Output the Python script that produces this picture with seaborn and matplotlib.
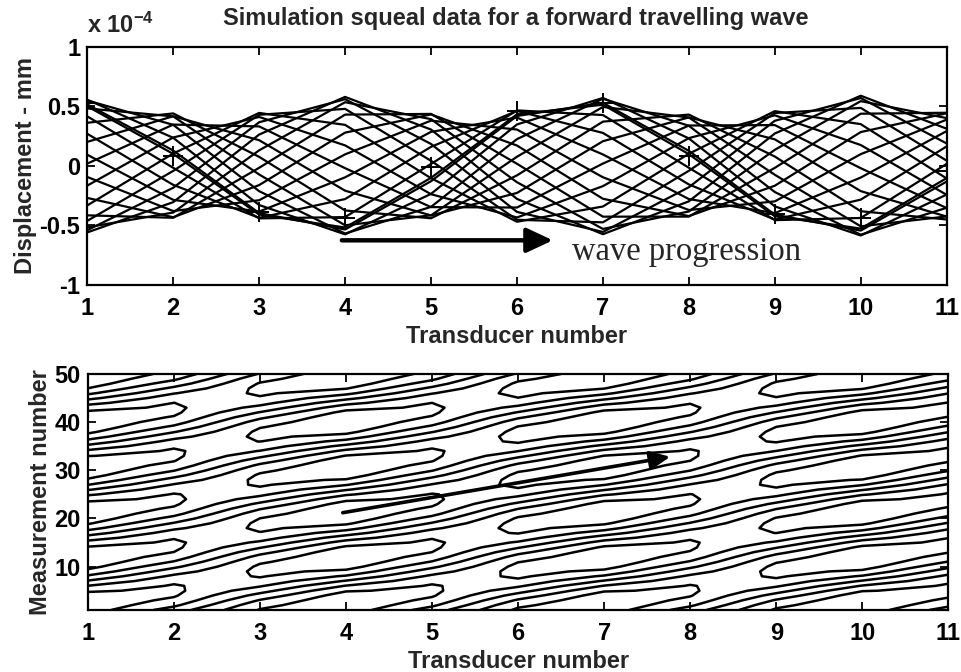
import numpy as np
import pandas as pd
import matplotlib
matplotlib.use("Agg")
import matplotlib.pyplot as plt
import seaborn as sns

# ---- data ----
transducers = list(range(1, 12))
# peak displacement per transducer (x 1e-4 mm)
amplitude = [0.56, 0.44, 0.445, 0.58, 0.44, 0.47, 0.575, 0.43, 0.46, 0.59, 0.45]
# phase lag per transducer (degrees)
phase_deg = [0, 50, 130, 180, 230, 310, 360, 410, 490, 540, 590]
period_meas = 18.8          # measurements per cycle
t_ref = 2.4                 # measurement of peak at transducer 1
measurements = list(range(1, 51))
top_snapshots = list(range(1, 21))
# marked snapshot ('+')
plus_values = [0.53, 0.08, -0.39, -0.44, -0.01, 0.46, 0.53, 0.08, -0.40, -0.44, -0.04]
x_ticks = list(range(1, 12))
y_ticks_top = [-1, -0.5, 0, 0.5, 1]
y_tick_labels_top = ["-1", "-0.5", "0", "0.5", "1"]
y_ticks_bot = [10, 20, 30, 40, 50]

sns.set_style("ticks")
plt.rcParams["font.family"] = ["Liberation Sans", "DejaVu Sans"]
plt.rcParams["font.weight"] = "bold"
plt.rcParams["mathtext.default"] = "regular"

A = np.array(amplitude)
ph = np.deg2rad(np.array(phase_deg))
M = np.array(measurements, dtype=float)
Z = A[None, :] * np.cos(2 * np.pi * (M[:, None] - t_ref) / period_meas - ph[None, :])

rows = []
for m in top_snapshots:
    for k, t in enumerate(transducers):
        rows.append({"meas": m, "transducer": t, "disp": Z[m - 1, k]})
df = pd.DataFrame(rows)
dfp = pd.DataFrame({"transducer": transducers, "disp": plus_values})

fig = plt.figure(figsize=(9.61, 6.72), dpi=100)
ax1 = fig.add_axes([0.0908, 0.5759, 0.8943, 0.3546])
ax2 = fig.add_axes([0.0915, 0.0923, 0.8953, 0.3512])

sns.lineplot(data=df, x="transducer", y="disp", units="meas", estimator=None,
             color="black", lw=1.6, ax=ax1, legend=False)
sns.scatterplot(data=dfp, x="transducer", y="disp", marker="+", s=200,
                color="black", linewidth=1.4, ax=ax1, legend=False, zorder=5)
ax1.set_xlim(1, 11)
ax1.set_ylim(-1, 1)
ax1.set_xticks(x_ticks)
ax1.set_yticks(y_ticks_top)
ax1.set_yticklabels(y_tick_labels_top)
ax1.set_xlabel("Transducer number", fontsize=17, fontweight="bold", labelpad=3)
ax1.set_ylabel("Displacement - mm", fontsize=17, fontweight="bold", labelpad=2)
fig.text(516 / 961, 1 - 18 / 672,
         "Simulation squeal data for a forward travelling wave",
         fontsize=17, fontweight="bold", ha="center", va="center")
fig.text(87 / 961, 1 - 33 / 672, r"x 10$^{-4}$", fontsize=17,
         fontweight="bold", ha="left", va="baseline")
ax1.annotate("", xy=(6.45, -0.625), xytext=(3.93, -0.625),
             arrowprops=dict(arrowstyle="-|>,head_length=1.6,head_width=0.75",
                             color="black", lw=3.2))
ax1.text(6.64, -0.79, "wave progression", fontsize=23.5, family="Liberation Serif",
         fontweight="normal", ha="left", va="baseline")

levels = np.linspace(Z.min(), Z.max(), 7)[1:-1]
X, Y = np.meshgrid(np.array(transducers), M)
ax2.contour(X, Y, Z, levels=levels, colors="black", linewidths=1.8,
            linestyles="solid")
ax2.set_xlim(1, 11)
ax2.set_ylim(1, 50)
ax2.set_xticks(x_ticks)
ax2.set_yticks(y_ticks_bot)
ax2.set_xlabel("Transducer number", fontsize=17, fontweight="bold", labelpad=3)
ax2.set_ylabel("Measurement number", fontsize=17, fontweight="bold", labelpad=2)
ax2.annotate("", xy=(7.8, 32.9), xytext=(3.93, 21.1),
             arrowprops=dict(arrowstyle="-|>,head_length=1.2,head_width=0.55",
                             color="black", lw=2.6))

for ax in (ax1, ax2):
    for s in ax.spines.values():
        s.set_visible(True)
        s.set_linewidth(1.6)
        s.set_color("black")
    ax.tick_params(direction="in", length=6, width=1.3, top=True, right=True,
                   labelsize=17, pad=5, colors="black")
    ax.tick_params(axis="x", pad=9)
    for lab in ax.get_xticklabels() + ax.get_yticklabels():
        lab.set_fontweight("bold")

fig.savefig("out.png", dpi=100, facecolor="white")
